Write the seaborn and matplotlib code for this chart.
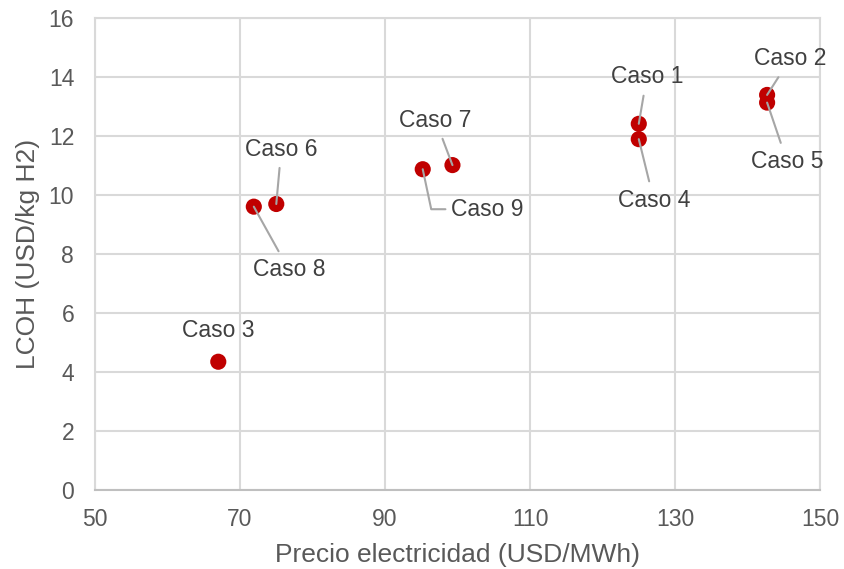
import matplotlib
matplotlib.use("Agg")
import matplotlib.pyplot as plt
import seaborn as sns
import pandas as pd

# Cases: electricity price vs levelized cost of hydrogen
casos = ["Caso 1", "Caso 2", "Caso 3", "Caso 4", "Caso 5",
         "Caso 6", "Caso 7", "Caso 8", "Caso 9"]
precio = [125.0, 142.7, 67.0, 125.0, 142.7, 75.0, 99.3, 71.9, 95.2]
lcoh = [12.41, 13.39, 4.34, 11.89, 13.13, 9.69, 11.01, 9.60, 10.87]

x_ticks = [50, 70, 90, 110, 130, 150]
y_ticks = [0, 2, 4, 6, 8, 10, 12, 14, 16]

# label offsets in pixels (dx, dy) from each point
offsets = {
    "Caso 1": (8, 47), "Caso 2": (23, 36), "Caso 3": (0, 31),
    "Caso 4": (15, -61), "Caso 5": (20, -59), "Caso 6": (5, 55),
    "Caso 7": (-17, 45), "Caso 8": (35, -63), "Caso 9": (65, -40),
}

df = pd.DataFrame({"caso": casos, "precio": precio, "lcoh": lcoh})

sns.set_style("white")
plt.rcParams["font.family"] = ["Liberation Sans", "DejaVu Sans"]

text_col = "#595959"
grid_col = "#D9D9D9"

fig = plt.figure(figsize=(8.44, 5.69), dpi=100)
ax = fig.add_axes([0.1126, 0.1394, 0.859, 0.829])

sns.scatterplot(data=df, x="precio", y="lcoh", ax=ax, color="#C00000",
                s=135, edgecolor="none", zorder=3, legend=False)

for c, xv, yv in zip(casos, precio, lcoh):
    dx, dy = offsets[c]
    arrow = None
    if c == "Caso 9":
        arrow = dict(arrowstyle="-", color="#A6A6A6", lw=1.5,
                     shrinkA=2, shrinkB=0,
                     connectionstyle="angle,angleA=0,angleB=102,rad=0")
    elif c != "Caso 3":
        arrow = dict(arrowstyle="-", color="#A6A6A6", lw=1.5,
                     shrinkA=3, shrinkB=0)
    ax.annotate(c, xy=(xv, yv), xytext=(dx, dy), textcoords="offset pixels",
                ha="center", va="center", fontsize=16.5, color="#404040",
                arrowprops=arrow, zorder=4)

ax.set_xlim(50, 150)
ax.set_ylim(0, 16)
ax.set_xticks(x_ticks)
ax.set_yticks(y_ticks)
ax.grid(True, color=grid_col, lw=1.5, zorder=0)
ax.set_axisbelow(True)
for sp in ax.spines.values():
    sp.set_visible(True)
    sp.set_color(grid_col)
    sp.set_linewidth(1.5)
ax.spines["bottom"].set_color("#BFBFBF")

ax.tick_params(axis="both", length=0, labelsize=16.5, labelcolor=text_col)
ax.tick_params(axis="x", pad=13)
ax.tick_params(axis="y", pad=15)

ax.set_xlabel("Precio electricidad (USD/MWh)", fontsize=19, color=text_col, labelpad=9)
ax.set_ylabel("LCOH (USD/kg H2)", fontsize=19, color=text_col, labelpad=6)

fig.savefig("out.png", dpi=100)
